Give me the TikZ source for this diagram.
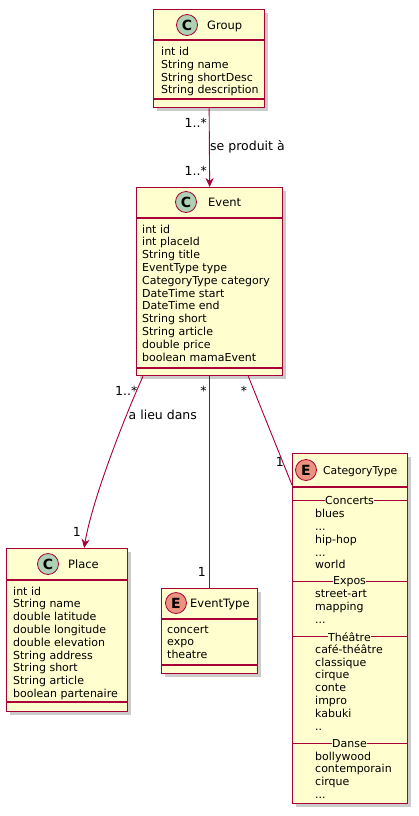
\documentclass[tikz,border=0pt]{standalone}
\usepackage{fontspec}
\setmainfont{DejaVu Sans}
\usetikzlibrary{shadows,arrows.meta}
\definecolor{umlred}{HTML}{A80036}
\definecolor{umlyellow}{HTML}{FEFECE}
\definecolor{cgreen}{HTML}{ADD1B2}
\definecolor{eorange}{HTML}{EB937F}
\newcommand{\attrfont}{\fontsize{11}{12.8}\selectfont}
\newcommand{\namefont}{\fontsize{11.5}{14}\selectfont}
\newcommand{\linkfont}{\fontsize{12.5}{15}\selectfont}
\begin{document}
\begin{tikzpicture}[x=1pt,y=-1pt,
  classbox/.style={draw=umlred,fill=umlyellow,line width=1.3pt,anchor=north west,inner sep=0pt,
    drop shadow={shadow xshift=3.5pt,shadow yshift=-3.5pt,fill=black!40,opacity=0.5}},
  icon/.style={circle,draw=umlred,line width=0.8pt,minimum size=21pt,inner sep=0pt,
    font=\fontsize{14}{14}\selectfont\bfseries},
  cname/.style={anchor=base west,inner sep=0pt,font=\namefont},
  attrs/.style={anchor=base west,inner sep=0pt,align=left,font=\attrfont},
  section/.style={fill=umlyellow,inner sep=0.5pt,font=\attrfont},
  sep/.style={draw=umlred,line width=1.3pt},
  thinsep/.style={draw=umlred,line width=0.9pt},
  link/.style={draw=umlred,line width=0.9pt},
  mult/.style={inner sep=0pt,font=\linkfont},
  umlarrow/.style={-{Stealth[length=9pt,width=8pt,inset=3pt]}}]
\path[use as bounding box,fill=white] (0,0) rectangle (418,816);

\node[classbox,minimum width=111pt,minimum height=98pt] (group) at (153,9) {};
\draw[sep] ([yshift=-31pt]group.north west) -- ([yshift=-31pt]group.north east);
\draw[sep] ([yshift=-90pt]group.north west) -- ([yshift=-90pt]group.north east);
\node[icon,fill=cgreen] (groupicon) at (187,25) {C};
\node[cname] (groupname) at (207,29.2) {Group};
\node[attrs] (groupattrs) at (161,93.9) {int id\\String name\\String shortDesc\\String description};

\node[classbox,minimum width=146pt,minimum height=188pt] (event) at (136,187) {};
\draw[sep] ([yshift=-31pt]event.north west) -- ([yshift=-31pt]event.north east);
\draw[sep] ([yshift=-181pt]event.north west) -- ([yshift=-181pt]event.north east);
\node[icon,fill=cgreen] (eventicon) at (186,202) {C};
\node[cname] (eventname) at (208,206.2) {Event};
\node[attrs] (eventattrs) at (142,361) {int id\\int placeId\\String title\\EventType type\\CategoryType category\\DateTime start\\DateTime end\\String short\\String article\\double price\\boolean mamaEvent};

\node[classbox,minimum width=121pt,minimum height=163pt] (place) at (6,548) {};
\draw[sep] ([yshift=-32pt]place.north west) -- ([yshift=-32pt]place.north east);
\draw[sep] ([yshift=-154pt]place.north west) -- ([yshift=-154pt]place.north east);
\node[icon,fill=cgreen] (placeicon) at (48,564) {C};
\node[cname] (placename) at (68,568.2) {Place};
\node[attrs] (placeattrs) at (13,697.4) {int id\\String name\\double latitude\\double longitude\\double elevation\\String address\\String short\\String article\\boolean partenaire};

\node[classbox,minimum width=96pt,minimum height=85pt] (etype) at (161,588) {};
\draw[sep] ([yshift=-31pt]etype.north west) -- ([yshift=-31pt]etype.north east);
\draw[sep] ([yshift=-77pt]etype.north west) -- ([yshift=-77pt]etype.north east);
\node[icon,fill=eorange] (etypeicon) at (176,603) {E};
\node[cname] (etypename) at (190,607.2) {EventType};
\node[attrs] (etypeattrs) at (167,658.6) {concert\\expo\\theatre};

\node[classbox,minimum width=115pt,minimum height=350pt] (cat) at (292,453) {};
\draw[sep] ([yshift=-34pt]cat.north west) -- ([yshift=-34pt]cat.north east);
\node[icon,fill=eorange] (caticon) at (306,470) {E};
\node[cname,font=\fontsize{10.8}{13}\selectfont] (catname) at (323,474.2) {CategoryType};
\draw[thinsep] ([yshift=-47pt]cat.north west) -- ([yshift=-47pt]cat.north east);
\node[section] (concerts) at (349.5,500) {Concerts};
\node[attrs] (concertsitems) at (315,568.9) {blues\\...\\hip-hop\\...\\world};
\draw[thinsep] ([yshift=-128.7pt]cat.north west) -- ([yshift=-128.7pt]cat.north east);
\node[section] (expos) at (349.5,581.7) {Expos};
\node[attrs] (expositems) at (315,623.3) {street-art\\mapping\\...};
\draw[thinsep] ([yshift=-183.7pt]cat.north west) -- ([yshift=-183.7pt]cat.north east);
\node[section] (theatre) at (349.5,636.7) {Théâtre};
\node[attrs] (theatreitems) at (315,730.1) {café-théâtre\\classique\\cirque\\conte\\impro\\kabuki\\..};
\draw[thinsep] ([yshift=-290.3pt]cat.north west) -- ([yshift=-290.3pt]cat.north east);
\node[section] (danse) at (349.5,743.3) {Danse};
\node[attrs] (danseitems) at (315,798.4) {bollywood\\contemporain\\cirque\\...};

\draw[link,umlarrow] (group.south) -- (event.north);
\node[mult,anchor=base east] (groupmult) at (207,127) {1..*};
\node[mult,anchor=base west] (producelbl) at (210,150.5) {se produit à};
\node[mult,anchor=base east] (eventmult) at (207,175) {1..*};

\draw[link,umlarrow] ([xshift=7pt]event.south west) .. controls (125,416) and (92,500) .. ([xshift=17pt]place.north);
\node[mult,anchor=base east] (placefrom) at (137.5,395) {1..*};
\node[mult,anchor=base west] (placelbl) at (128.5,419.5) {a lieu dans};
\node[mult,anchor=base east] (placeto) at (81,536.5) {1};

\draw[link] (event.south) -- (etype.north);
\node[mult,anchor=base east] (etypefrom) at (206.7,395) {*};
\node[mult,anchor=base east] (etypeto) at (206,576) {1};

\draw[link] ([xshift=-35pt]event.south east) -- ([yshift=-32pt]cat.north west);
\node[mult,anchor=base east] (catfrom) at (247.3,395) {*};
\node[mult,anchor=base east] (catto) at (284,466.7) {1};
\end{tikzpicture}
\end{document}
